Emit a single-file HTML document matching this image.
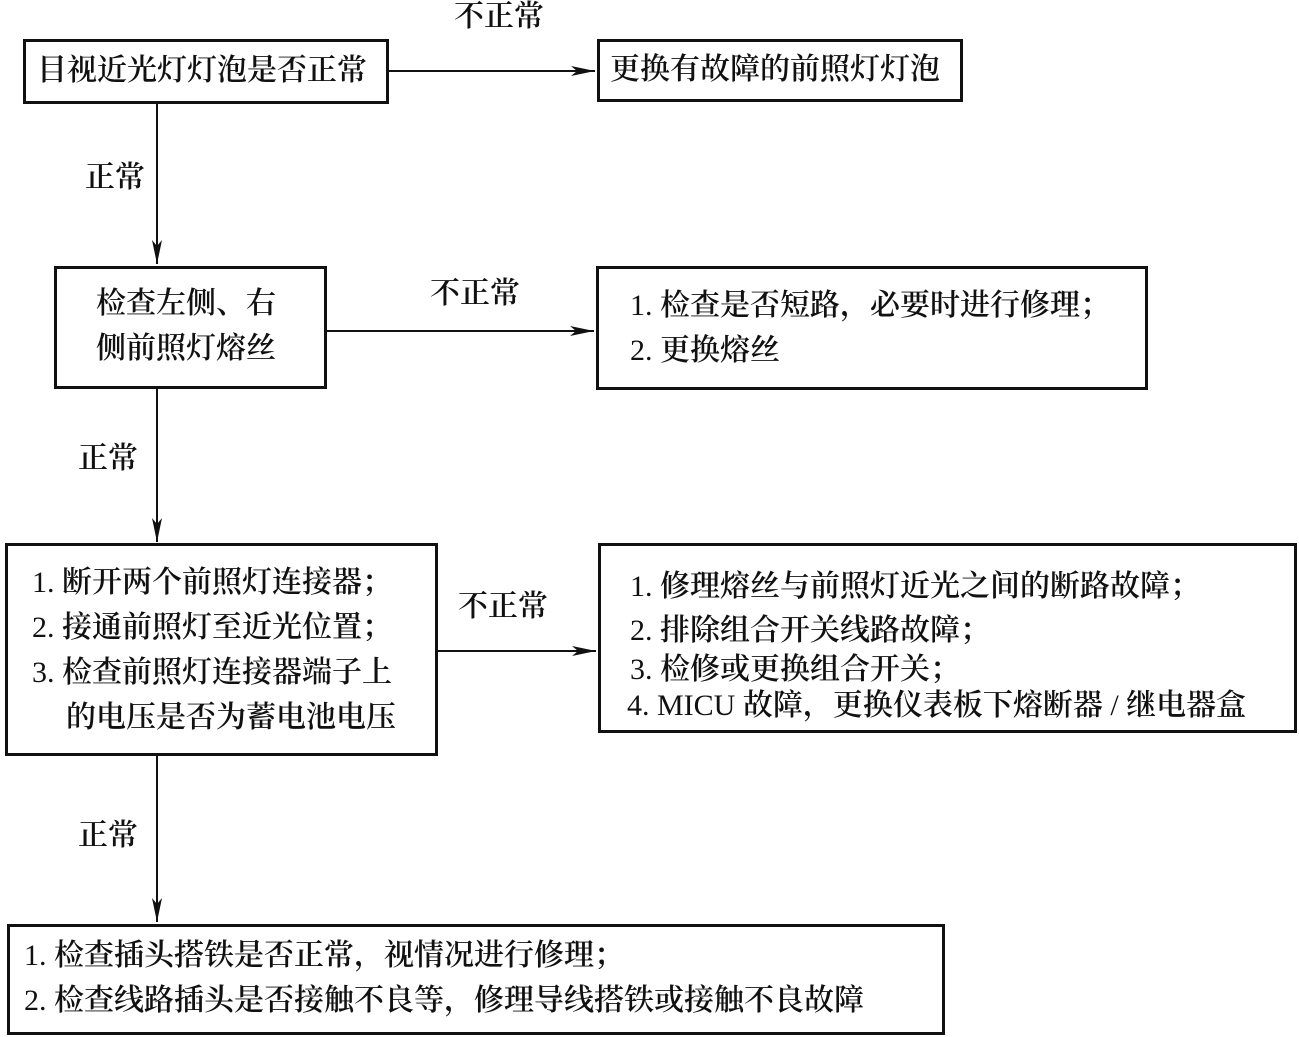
<!DOCTYPE html>
<html><head><meta charset="utf-8"><style>
body{margin:0;width:1299px;height:1037px;background:#fff;position:relative;overflow:hidden;font-family:"Liberation Serif","Noto Serif CJK SC",serif;color:#111;font-size:30px;font-weight:600}
.b{position:absolute;border:3px solid #111;box-sizing:border-box}
.t{position:absolute;white-space:nowrap;line-height:1}
.n{font-weight:400}
</style></head><body>
<svg width="1299" height="1037" style="position:absolute;left:0;top:0">
<defs><marker id="a" markerWidth="24" markerHeight="10" refX="24" refY="5" orient="auto" markerUnits="userSpaceOnUse"><path d="M0,0 L24,5 L0,10 L6,5 Z" fill="#111"/></marker></defs>
<g stroke="#111" stroke-width="2" fill="none">
<line x1="388" y1="71" x2="595" y2="71" marker-end="url(#a)"/>
<line x1="157" y1="103" x2="157" y2="264" marker-end="url(#a)"/>
<line x1="326" y1="331" x2="594" y2="331" marker-end="url(#a)"/>
<line x1="157" y1="388" x2="157" y2="542" marker-end="url(#a)"/>
<line x1="437" y1="651" x2="596" y2="651" marker-end="url(#a)"/>
<line x1="157" y1="755" x2="157" y2="922" marker-end="url(#a)"/>
</g></svg>
<div class="b" style="left:23px;top:39px;width:366px;height:65px"></div>
<div class="t" style="left:37px;top:56px">目视近光灯灯泡是否正常</div>
<div class="b" style="left:597px;top:39px;width:366px;height:63px"></div>
<div class="t" style="left:610px;top:55px">更换有故障的前照灯灯泡</div>
<div class="b" style="left:54px;top:266px;width:273px;height:123px"></div>
<div class="t" style="left:96px;top:289px">检查左侧、右</div>
<div class="t" style="left:96px;top:334px">侧前照灯熔丝</div>
<div class="b" style="left:596px;top:266px;width:552px;height:124px"></div>
<div class="t" style="left:630px;top:291px"><span class="n">1.</span> 检查是否短路，必要时进行修理；</div>
<div class="t" style="left:630px;top:336px"><span class="n">2.</span> 更换熔丝</div>
<div class="b" style="left:5px;top:543px;width:433px;height:213px"></div>
<div class="t" style="left:32px;top:568px"><span class="n">1.</span> 断开两个前照灯连接器；</div>
<div class="t" style="left:32px;top:613px"><span class="n">2.</span> 接通前照灯至近光位置；</div>
<div class="t" style="left:32px;top:658px"><span class="n">3.</span> 检查前照灯连接器端子上</div>
<div class="t" style="left:66px;top:703px">的电压是否为蓄电池电压</div>
<div class="b" style="left:598px;top:543px;width:699px;height:190px"></div>
<div class="t" style="left:630px;top:572px"><span class="n">1.</span> 修理熔丝与前照灯近光之间的断路故障；</div>
<div class="t" style="left:630px;top:616px"><span class="n">2.</span> 排除组合开关线路故障；</div>
<div class="t" style="left:630px;top:655px"><span class="n">3.</span> 检修或更换组合开关；</div>
<div class="t" style="left:627px;top:691px"><span class="n">4. MICU</span> 故障，更换仪表板下熔断器 <span class="n">/</span> 继电器盒</div>
<div class="b" style="left:7px;top:924px;width:938px;height:111px"></div>
<div class="t" style="left:24px;top:941px"><span class="n">1.</span> 检查插头搭铁是否正常，视情况进行修理；</div>
<div class="t" style="left:24px;top:986px"><span class="n">2.</span> 检查线路插头是否接触不良等，修理导线搭铁或接触不良故障</div>
<div class="t" style="left:454px;top:2px">不正常</div>
<div class="t" style="left:85px;top:163px">正常</div>
<div class="t" style="left:430px;top:279px">不正常</div>
<div class="t" style="left:78px;top:444px">正常</div>
<div class="t" style="left:458px;top:592px">不正常</div>
<div class="t" style="left:78px;top:821px">正常</div>
</body></html>
